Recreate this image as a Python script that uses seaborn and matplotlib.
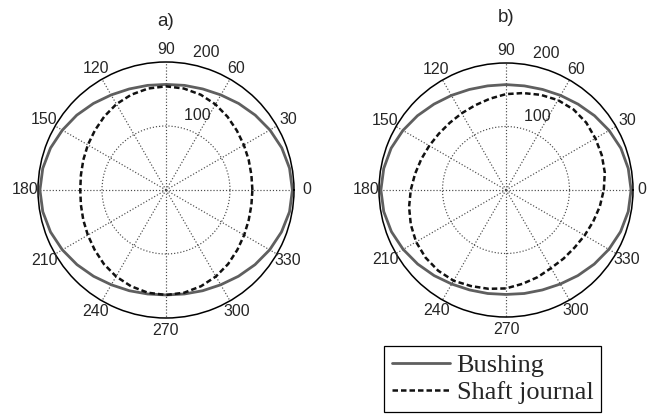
import numpy as np
import pandas as pd
import matplotlib
matplotlib.use("Agg")
import matplotlib.pyplot as plt
from matplotlib.font_manager import FontProperties
import seaborn as sns

# ---------------- data ----------------
angles_deg = list(range(0, 360, 10))

bushing_a = [197.5, 196, 192.5, 187.5, 182, 176.5, 171.5, 168, 166, 165,
             166, 168, 171.5, 176.5, 182, 187, 192, 195.5,
             197, 195.5, 192, 187, 181.5, 176, 171, 167.5, 165, 164,
             165, 167.5, 171, 176, 181.5, 187, 192, 196]
shaft_a = [135, 135.5, 137.5, 140.5, 144.5, 149.5, 154.5, 158.5, 161, 162,
           161, 158.5, 155, 150, 145, 141, 137.5, 135,
           134, 135, 137.5, 141, 145.5, 151, 156, 160, 163, 164,
           163, 160, 156, 151, 145.5, 141, 137.5, 135.5]

bushing_b = [197, 195.5, 192.5, 187.5, 182, 176.5, 172, 168.5, 166.5, 166,
             166.5, 168.5, 172, 176.5, 182, 187.5, 192.5, 195.5,
             197, 195.5, 192, 187, 181.5, 176, 171, 167.5, 165.5, 164.5,
             165.5, 167.5, 171, 176, 181.5, 187, 192, 195.5]
shaft_b = [154, 158, 160.5, 162.5, 165, 165.5, 163.5, 159.5, 155, 151,
           146, 142, 139.5, 138, 138, 139.5, 142, 145.5,
           150, 155, 159.5, 163.5, 165.5, 166, 165, 161, 158, 155,
           150, 146, 142, 141, 141, 143, 146, 150]

theta_ticks = [0, 30, 60, 90, 120, 150, 180, 210, 240, 270, 300, 330]
r_ticks = [100, 200]
r_max = 200
panel_titles = ["a)", "b)"]
series_labels = ["Bushing", "Shaft journal"]

# ---------------- styling ----------------
sns.set_theme(style="white")
plt.rcParams["font.family"] = ["Liberation Sans", "DejaVu Sans"]

W, H = 648, 419
fig = plt.figure(figsize=(W / 100, H / 100), dpi=100)


def px_axes(cx, cy, rad):
    return [(cx - rad) / W, (H - cy - rad) / H, 2 * rad / W, 2 * rad / H]


axA = fig.add_axes(px_axes(166, 190, 128), projection="polar")
axB = fig.add_axes(px_axes(506, 190, 127), projection="polar")

bush_color = "#5f5f5f"
shaft_color = "#111111"
dash = (0, (2.2, 1.2))
tick_fs = 11.5


def closed_df(vals):
    th = np.deg2rad(np.append(angles_deg, 360))
    rr = np.append(vals, vals[0])
    return pd.DataFrame({"theta": th, "r": rr})


def draw_panel(ax, bush, shaft, title, cx, title_y, edge_shift=0):
    ax.set_ylim(0, r_max)
    ax.set_xticks(np.deg2rad(theta_ticks))
    ax.set_xticklabels([])
    ax.set_yticks([r_ticks[0]])
    ax.set_yticklabels([])
    ax.grid(True, color="#4a4a4a", linestyle=":", linewidth=0.85)
    ax.spines["polar"].set_color("black")
    ax.spines["polar"].set_linewidth(1.1)
    ax.set_facecolor("white")

    sns.lineplot(data=closed_df(bush), x="theta", y="r", ax=ax, sort=False,
                 color=bush_color, linewidth=2.0, label=series_labels[0])
    sns.lineplot(data=closed_df(shaft), x="theta", y="r", ax=ax, sort=False,
                 color=shaft_color, linewidth=1.8, linestyle=dash,
                 label=series_labels[1])
    if ax.get_legend() is not None:
        ax.get_legend().remove()
    ax.set_xlabel("")
    ax.set_ylabel("")

    # angle labels (MATLAB style, at 1.1 * rmax)
    for a in theta_ticks:
        dx = edge_shift if a == 0 else 0
        ax.annotate(str(a), xy=(np.deg2rad(a), 1.1 * r_max),
                    xytext=(dx, 0), textcoords="offset points",
                    ha="center", va="center", fontsize=tick_fs,
                    annotation_clip=False)
    # ring labels at 82 degrees
    for rt in r_ticks:
        ax.text(np.deg2rad(82), rt + 5, "  " + str(rt), ha="left", va="bottom",
                fontsize=tick_fs, clip_on=False)
    fig.text(cx / W, 1 - title_y / H, title, ha="center", va="center",
             fontsize=13.5)


draw_panel(axA, bushing_a, shaft_a, panel_titles[0], 166, 22)
draw_panel(axB, bushing_b, shaft_b, panel_titles[1], 506, 17, edge_shift=-3)

handles, labels = axB.get_legend_handles_labels()
leg = fig.legend(handles, labels, loc="upper left",
                 bbox_to_anchor=(384 / W, 1 - 346 / H),
                 prop=FontProperties(family="Liberation Serif", size=19.0),
                 frameon=True, fancybox=False, edgecolor="black",
                 framealpha=1, handlelength=2.2, handletextpad=0.25,
                 labelspacing=0.12, borderpad=0.3, borderaxespad=0)
leg.get_frame().set_linewidth(0.9)

fig.savefig("out.png", dpi=100)
